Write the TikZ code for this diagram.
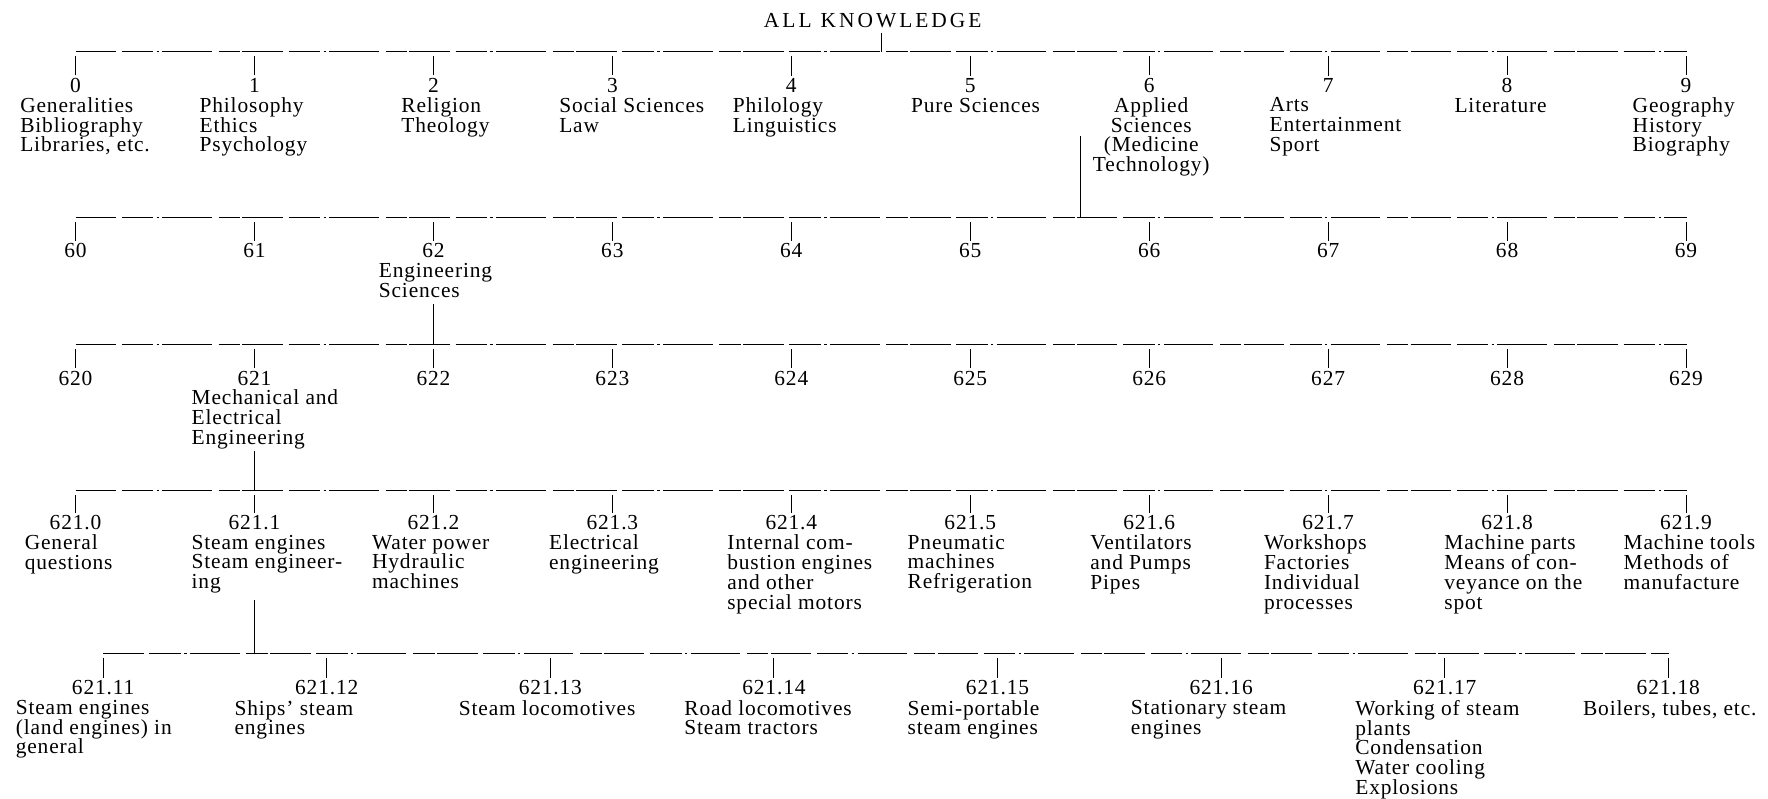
\documentclass[tikz,border=0pt]{standalone}
\usepackage{fontspec}
\setmainfont{Liberation Serif}[LetterSpace=4]
\usetikzlibrary{calc}
\begin{document}
\begin{tikzpicture}[x=1pt,y=-1pt,
  every node/.style={inner sep=0pt, outer sep=0pt, font=\fontsize{19}{17.5}\selectfont},
  num/.style={anchor=base},
  txt/.style={anchor=north west, align=left, execute at begin node={\rule{0pt}{13pt}}},
  ctxt/.style={anchor=north, align=center, execute at begin node={\rule{0pt}{13pt}}},
  bar/.style={line width=0.9pt, dash pattern=on 36pt off 5pt on 28pt off 3pt on 2pt off 3pt on 44pt off 6pt on 19pt off 2pt},
  stem/.style={line width=0.9pt},
]
\useasboundingbox (0,0) rectangle (1568,708);

% ---------- title ----------
\node[num] (all) at (774,24) {\addfontfeatures{LetterSpace=14}ALL\hspace{8pt}KNOWLEDGE};
\coordinate (allstub) at (782,29);

% ---------- bars ----------
\coordinate (b1l) at (67,46);   \coordinate (b1r) at (1496,46);
\coordinate (b2l) at (67,193);  \coordinate (b2r) at (1496,193);
\coordinate (b3l) at (67,305.5);\coordinate (b3r) at (1496,305.5);
\coordinate (b4l) at (67,435);  \coordinate (b4r) at (1496,435);
\coordinate (b5l) at (91.5,579.5); \coordinate (b5r) at (1480,579.5);
\foreach \i in {1,...,5} \draw[bar] (b\i l) -- (b\i r);

\draw[stem] (allstub) -- (allstub |- b1l);

% ---------- row 1 ----------
\node[num] (n0) at (67,82) {0};
\node[num] (n1) at (225.7,82) {1};
\node[num] (n2) at (384.4,82) {2};
\node[num] (n3) at (543.1,82) {3};
\node[num] (n4) at (701.8,82) {4};
\node[num] (n5) at (860.5,82) {5};
\node[num] (n6) at (1019.2,82) {6};
\node[num] (n7) at (1177.9,82) {7};
\node[num] (n8) at (1336.6,82) {8};
\node[num] (n9) at (1495.3,82) {9};
\node[txt] (t0) at (18,86.5) {Generalities\\Bibliography\\Libraries, etc.};
\node[txt] (t1) at (177,86.5) {Philosophy\\Ethics\\Psychology};
\node[txt] (t2) at (356,86.5) {Religion\\Theology};
\node[txt] (t3) at (496,86.5) {Social Sciences\\Law};
\node[txt] (t4) at (650,86.5) {Philology\\Linguistics};
\node[txt] (t5) at (808,86.5) {Pure Sciences};
\node[ctxt] (t6) at (1021,86.5) {Applied\\Sciences\\(Medicine\\Technology)};
\node[txt] (t7) at (1126,86.5) {Arts\\Entertainment\\Sport};
\node[txt] (t8) at (1290,86.5) {Literature};
\node[txt] (t9) at (1448,86.5) {Geography\\History\\Biography};
\foreach \n in {n0,n1,n2,n3,n4,n5,n6,n7,n8,n9}
  \draw[stem] ($(\n.north)+(0,-2.5)$) -- ($(\n.north |- b1l)+(0,4)$);
\coordinate (c6) at (958,121);
\draw[stem] (c6) -- (c6 |- b2l);

% ---------- row 2 ----------
\node[num] (n60) at (67,228.5) {60};
\node[num] (n61) at (225.7,228.5) {61};
\node[num] (n62) at (384.4,228.5) {62};
\node[num] (n63) at (543.1,228.5) {63};
\node[num] (n64) at (701.8,228.5) {64};
\node[num] (n65) at (860.5,228.5) {65};
\node[num] (n66) at (1019.2,228.5) {66};
\node[num] (n67) at (1177.9,228.5) {67};
\node[num] (n68) at (1336.6,228.5) {68};
\node[num] (n69) at (1495.3,228.5) {69};
\node[txt] (t62) at (336,233.5) {Engineering\\Sciences};
\foreach \n in {n60,n61,n62,n63,n64,n65,n66,n67,n68,n69}
  \draw[stem] ($(\n.north)+(0,-2.5)$) -- ($(\n.north |- b2l)+(0,4)$);
\draw[stem] ($(n62 |- t62.south)+(0,6)$) -- (n62 |- b3l);

% ---------- row 3 ----------
\node[num] (n620) at (67,341.5) {620};
\node[num] (n621) at (225.7,341.5) {621};
\node[num] (n622) at (384.4,341.5) {622};
\node[num] (n623) at (543.1,341.5) {623};
\node[num] (n624) at (701.8,341.5) {624};
\node[num] (n625) at (860.5,341.5) {625};
\node[num] (n626) at (1019.2,341.5) {626};
\node[num] (n627) at (1177.9,341.5) {627};
\node[num] (n628) at (1336.6,341.5) {628};
\node[num] (n629) at (1495.3,341.5) {629};
\node[txt] (t621) at (170,346) {Mechanical and\\Electrical\\Engineering};
\foreach \n in {n620,n621,n622,n623,n624,n625,n626,n627,n628,n629}
  \draw[stem] ($(\n.north)+(0,-2.5)$) -- ($(\n.north |- b3l)+(0,4)$);
\draw[stem] ($(n621 |- t621.south)+(0,2)$) -- (n621 |- b4l);

% ---------- row 4 ----------
\node[num] (m0) at (67,470) {621.0};
\node[num] (m1) at (225.7,470) {621.1};
\node[num] (m2) at (384.4,470) {621.2};
\node[num] (m3) at (543.1,470) {621.3};
\node[num] (m4) at (701.8,470) {621.4};
\node[num] (m5) at (860.5,470) {621.5};
\node[num] (m6) at (1019.2,470) {621.6};
\node[num] (m7) at (1177.9,470) {621.7};
\node[num] (m8) at (1336.6,470) {621.8};
\node[num] (m9) at (1495.3,470) {621.9};
\node[txt] (u0) at (22,474.5) {General\\questions};
\node[txt] (u1) at (170,474.5) {Steam engines\\Steam engineer-\\ing};
\node[txt] (u2) at (330,474.5) {Water power\\Hydraulic\\machines};
\node[txt] (u3) at (487,474.5) {Electrical\\engineering};
\node[txt] (u4) at (645,474.5) {Internal com-\\bustion engines\\and other\\special motors};
\node[txt] (u5) at (805,474.5) {Pneumatic\\machines\\Refrigeration};
\node[txt] (u6) at (967,474.5) {Ventilators\\and Pumps\\Pipes};
\node[txt] (u7) at (1121,474.5) {Workshops\\Factories\\Individual\\processes};
\node[txt] (u8) at (1281,474.5) {Machine parts\\Means of con-\\veyance on the\\spot};
\node[txt] (u9) at (1440,474.5) {Machine tools\\Methods of\\manufacture};
\foreach \n in {m0,m1,m2,m3,m4,m5,m6,m7,m8,m9}
  \draw[stem] ($(\n.north)+(0,-2.5)$) -- ($(\n.north |- b4l)+(0,4)$);
\draw[stem] ($(m1 |- u1.south)+(0,6)$) -- (m1 |- b5l);

% ---------- row 5 ----------
\node[num] (k1) at (91.5,616) {621.11};
\node[num] (k2) at (289.8,616) {621.12};
\node[num] (k3) at (488.1,616) {621.13};
\node[num] (k4) at (686.4,616) {621.14};
\node[num] (k5) at (884.7,616) {621.15};
\node[num] (k6) at (1083,616) {621.16};
\node[num] (k7) at (1281.3,616) {621.17};
\node[num] (k8) at (1479.6,616) {621.18};
\node[txt] (v1) at (14,621) {Steam engines\\(land engines) in\\general};
\node[txt] (v2) at (208,621) {Ships' steam\\engines};
\node[txt] (v3) at (407,621) {Steam locomotives};
\node[txt] (v4) at (607,621) {Road locomotives\\Steam tractors};
\node[txt] (v5) at (805,621) {Semi-portable\\steam engines};
\node[txt] (v6) at (1003,621) {Stationary steam\\engines};
\node[txt] (v7) at (1202,621) {Working of steam\\plants\\Condensation\\Water cooling\\Explosions};
\node[txt] (v8) at (1404,621) {Boilers, tubes, etc.};
\foreach \n in {k1,k2,k3,k4,k5,k6,k7,k8}
  \draw[stem] ($(\n.north)+(0,-2.5)$) -- ($(\n.north |- b5l)+(0,4)$);
\end{tikzpicture}
\end{document}
